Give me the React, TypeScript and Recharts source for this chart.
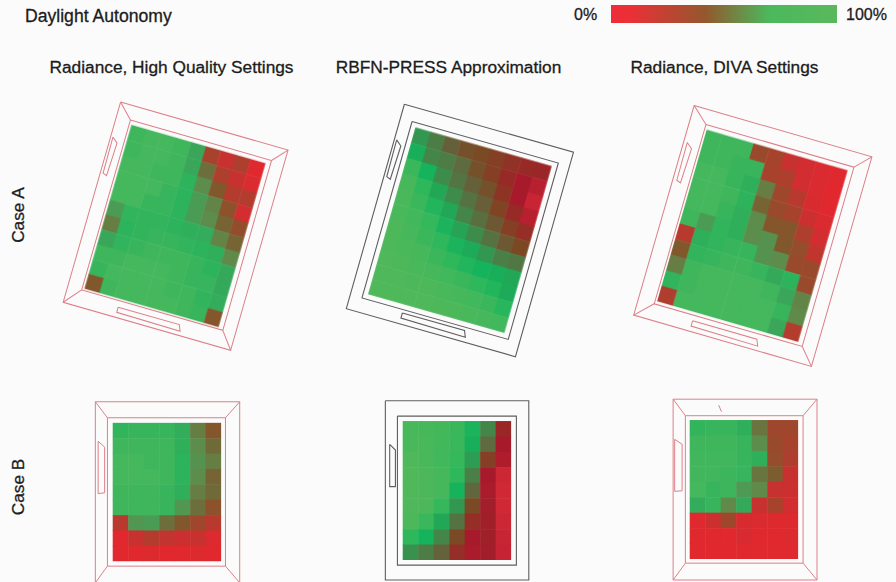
import React from "react";
import { ScatterChart, Scatter, XAxis, YAxis, BarChart, Bar } from "recharts";

const columnTitles = ["Radiance, High Quality Settings", "RBFN-PRESS Approximation", "Radiance, DIVA Settings"];
const rowTitles = ["Case A", "Case B"];
const legendTitle = "Daylight Autonomy";
const legendTicks = ["0%", "100%"];
const legendValue = [{ name: "autonomy", value: 100 }];

const caseAHigh = [
  [95, 97, 97, 95, 78, 25, 12, 22, 3],
  [95, 97, 97, 95, 78, 50, 22, 12, 5],
  [97, 97, 95, 95, 88, 62, 40, 20, 20],
  [97, 97, 97, 92, 88, 72, 58, 35, 8],
  [97, 97, 92, 92, 88, 72, 62, 45, 33],
  [72, 90, 90, 90, 88, 85, 82, 58, 45],
  [55, 88, 90, 92, 92, 90, 88, 85, 60],
  [78, 90, 92, 95, 95, 95, 92, 88, 80],
  [95, 95, 97, 97, 97, 95, 92, 92, 80],
  [92, 97, 97, 97, 97, 95, 95, 90, 82],
  [40, 95, 97, 97, 97, 97, 95, 92, 38],
];
const caseARbfn = [
  [68, 58, 45, 38, 35, 30, 24, 20, 18],
  [78, 62, 58, 50, 38, 30, 20, 12, 8],
  [92, 80, 64, 55, 45, 38, 25, 12, 4],
  [96, 88, 74, 64, 54, 44, 32, 20, 8],
  [97, 92, 84, 74, 62, 52, 42, 30, 22],
  [97, 94, 90, 82, 72, 64, 54, 42, 34],
  [98, 96, 92, 88, 82, 76, 68, 60, 56],
  [98, 97, 96, 92, 88, 84, 80, 78, 74],
  [99, 98, 97, 96, 94, 92, 88, 84, 76],
  [99, 99, 98, 98, 97, 96, 94, 92, 86],
  [99, 99, 99, 99, 98, 98, 97, 96, 94],
];
const caseADiva = [
  [95, 95, 95, 30, 25, 12, 8, 5, 3],
  [95, 95, 92, 92, 25, 22, 8, 5, 2],
  [97, 97, 92, 85, 55, 28, 18, 6, 2],
  [97, 97, 95, 88, 45, 30, 25, 10, 5],
  [97, 97, 92, 85, 62, 38, 38, 22, 8],
  [95, 72, 90, 85, 62, 65, 40, 32, 15],
  [18, 85, 90, 92, 92, 65, 62, 30, 30],
  [40, 90, 92, 95, 95, 92, 80, 88, 30],
  [55, 95, 97, 97, 97, 97, 95, 78, 58],
  [90, 95, 97, 97, 97, 97, 97, 92, 60],
  [22, 97, 97, 97, 97, 97, 97, 78, 20],
];
const caseBHigh = [
  [90, 92, 92, 92, 82, 55, 38],
  [95, 95, 95, 95, 85, 62, 48],
  [97, 97, 95, 95, 88, 65, 55],
  [97, 97, 97, 95, 88, 62, 45],
  [95, 95, 95, 92, 85, 55, 48],
  [95, 95, 95, 92, 68, 50, 35],
  [18, 68, 72, 50, 40, 28, 18],
  [2, 12, 20, 14, 10, 12, 4],
  [2, 3, 4, 2, 2, 4, 2],
];
const caseBRbfn = [
  [97, 96, 95, 92, 82, 62, 18],
  [97, 97, 95, 92, 78, 50, 12],
  [99, 97, 94, 90, 70, 30, 10],
  [99, 98, 96, 88, 60, 12, 3],
  [99, 98, 96, 80, 48, 11, 2],
  [99, 98, 90, 68, 35, 14, 2],
  [98, 92, 74, 54, 22, 15, 3],
  [88, 80, 62, 35, 12, 15, 4],
  [66, 58, 46, 22, 11, 14, 5],
];
const caseBDiva = [
  [90, 92, 92, 85, 52, 28, 28],
  [95, 95, 95, 92, 62, 30, 25],
  [96, 96, 96, 92, 85, 32, 22],
  [96, 96, 94, 92, 52, 42, 12],
  [97, 92, 94, 70, 60, 12, 10],
  [82, 92, 60, 80, 12, 25, 8],
  [3, 10, 28, 6, 5, 4, 4],
  [3, 3, 2, 6, 3, 3, 4],
  [2, 2, 3, 3, 3, 3, 3],
];

// colour ramps: [value, colour]
const radianceRamp: [number, string][] = [
  [0, "#e8262f"], [10, "#cc2f30"], [20, "#b33c2e"], [30, "#9a4a2c"], [40, "#80582c"],
  [50, "#6c6f3c"], [60, "#5f8a4a"], [72, "#4a9c55"], [80, "#35a95a"], [88, "#2db35c"],
  [96, "#42b65c"], [100, "#4db85c"],
];
const rbfnRamp: [number, string][] = [
  [0, "#d92b38"], [12, "#a61a2b"], [25, "#8e3424"], [35, "#7a4a24"], [45, "#66603a"],
  [60, "#4a8047"], [72, "#26a355"], [80, "#14b35c"], [88, "#2fb75c"], [100, "#52b85a"],
];

const hex = (c: string) => [1, 3, 5].map((i) => parseInt(c.slice(i, i + 2), 16));
function colorOf(v: number, ramp: [number, string][]) {
  for (let i = 1; i < ramp.length; i++) {
    if (v <= ramp[i][0]) {
      const t = (v - ramp[i - 1][0]) / (ramp[i][0] - ramp[i - 1][0]);
      const a = hex(ramp[i - 1][1]);
      const b = hex(ramp[i][1]);
      return `rgb(${a.map((x, k) => Math.round(x + (b[k] - x) * t)).join(",")})`;
    }
  }
  return ramp[ramp.length - 1][1];
}

type Pt = { x: number; y: number };
const pts = (list: number[][]): Pt[] => list.map(([x, y]) => ({ x, y }));
const ring = (r: number[]): Pt[] =>
  pts([[r[0], r[2]], [r[1], r[2]], [r[1], r[3]], [r[0], r[3]], [r[0], r[2]]]);
const closed = (list: number[][]): Pt[] => pts([...list, list[0]]);

const PINK = "#dc7f88";
const GRAY = "#5f5f5f";

const windowLeftA = [[-0.93, 1.09], [-0.57, 1.39], [-0.64, 3.6], [-0.9, 3.5]];
const windowBottomA = [[2.42, 11.55], [2.42, 11.89], [6.69, 11.94], [6.52, 11.54]];

const panels = [
  { grid: caseAHigh, ramp: radianceRamp, cx: 175, cy: 226.2, cw: 15.5, ch: 15.5, angle: 16, stroke: PINK, diag: true,
    outer: [-1.08, 10.16, -1.22, 12.22], inner: [-0.15, 9.32, -0.28, 11.12], windows: [windowLeftA, windowBottomA] },
  { grid: caseARbfn, ramp: rbfnRamp, cx: 460.3, cy: 230, cw: 15.74, ch: 15.77, angle: 15.85, stroke: GRAY, diag: false,
    outer: [-1.08, 10.09, -1.22, 12.26], inner: [-0.31, 9.35, -0.3, 11.33], windows: [windowLeftA, windowBottomA] },
  { grid: caseADiva, ramp: radianceRamp, cx: 752.3, cy: 235.5, cw: 16.3, ch: 16.23, angle: 16.1, stroke: PINK, diag: true,
    outer: [-1.15, 10.2, -1.22, 12.22], inner: [-0.13, 9.32, -0.3, 11.2], windows: [windowLeftA, windowBottomA] },
  { grid: caseBHigh, ramp: radianceRamp, cx: 166.5, cy: 492.5, cw: 15.49, ch: 15.38, angle: 0, stroke: PINK, diag: true,
    outer: [-1.12, 8.2, -1.37, 10.4], inner: [-0.34, 7.28, -0.33, 9.32],
    windows: [[[-0.94, 1.2], [-0.52, 1.58], [-0.52, 4.55], [-0.94, 4.6]]] },
  { grid: caseBRbfn, ramp: rbfnRamp, cx: 456.5, cy: 490.5, cw: 15.49, ch: 15.44, angle: 0, stroke: GRAY, diag: false,
    outer: [-1.12, 8.14, -1.31, 10.3], inner: [-0.34, 7.34, -0.32, 9.33],
    windows: [[[-0.84, 1.51], [-0.47, 1.88], [-0.47, 4.25], [-0.84, 4.25]]] },
  { grid: caseBDiva, ramp: radianceRamp, cx: 743.5, cy: 489.5, cw: 15.49, ch: 15.44, angle: 0, stroke: PINK, diag: true,
    outer: [-1.07, 8.22, -1.35, 10.36], inner: [-0.28, 7.32, -0.28, 9.27],
    windows: [[[-0.97, 1.25], [-0.49, 1.57], [-0.49, 4.58], [-0.97, 4.62]], [[1.87, -0.97], [2.05, -0.54]]] },
];

const NoDot = () => <g />;

function Panel({ p }: { p: (typeof panels)[number] }) {
  const rows = p.grid.length;
  const cols = p.grid[0].length;
  const span = 8;
  const w = p.cw * span * 2;
  const h = p.ch * span * 2;
  const cells = p.grid.flatMap((row, r) => row.map((v, c) => ({ x: c + 0.5, y: r + 0.5, v })));
  const [ol, or, ot, ob] = p.outer;
  const [il, ir, it, ib] = p.inner;
  const lines: Pt[][] = [ring(p.outer), ring(p.inner), ...p.windows.map((q) => (q.length > 2 ? closed(q) : pts(q)))];
  if (p.diag) {
    lines.push(
      pts([[ol, ot], [il, it]]),
      pts([[or, ot], [ir, it]]),
      pts([[or, ob], [ir, ib]]),
      pts([[ol, ob], [il, ib]])
    );
  }
  const Cellish = (s: any) => {
    const right = s.payload.x < cols - 1 ? 0.5 : 0;
    const bottom = s.payload.y < rows - 1 ? 0.5 : 0;
    return (
      <rect
        x={s.cx - p.cw / 2}
        y={s.cy - p.ch / 2}
        width={p.cw + right}
        height={p.ch + bottom}
        fill={colorOf(s.payload.v, p.ramp)}
      />
    );
  };
  const xDomain = [cols / 2 - span, cols / 2 + span];
  const yDomain = [rows / 2 - span, rows / 2 + span];
  const layer: React.CSSProperties = { position: "absolute", left: 0, top: 0 };
  return (
    <div
      style={{
        position: "absolute",
        left: p.cx - w / 2,
        top: p.cy - h / 2,
        width: w,
        height: h,
        transform: `rotate(${p.angle}deg)`,
      }}
    >
      <div style={{ ...layer, filter: "blur(0.6px)" }}>
        <ScatterChart width={w} height={h} margin={{ top: 0, right: 0, bottom: 0, left: 0 }}>
          <XAxis type="number" dataKey="x" hide domain={xDomain} />
          <YAxis type="number" dataKey="y" hide reversed domain={yDomain} />
          <Scatter data={cells} isAnimationActive={false} shape={Cellish} />
        </ScatterChart>
      </div>
      <div style={layer}>
        <ScatterChart width={w} height={h} margin={{ top: 0, right: 0, bottom: 0, left: 0 }}>
          <XAxis type="number" dataKey="x" hide domain={xDomain} />
          <YAxis type="number" dataKey="y" hide reversed domain={yDomain} />
          {lines.map((l, i) => (
            <Scatter
              key={i}
              data={l}
              isAnimationActive={false}
              shape={NoDot}
              line={{ stroke: p.stroke, strokeWidth: p.stroke === GRAY ? 1.1 : 1, fill: "none" }}
            />
          ))}
        </ScatterChart>
      </div>
    </div>
  );
}

const font = '"Liberation Sans", Arial, sans-serif';
const textBase: React.CSSProperties = {
  position: "absolute",
  fontFamily: font,
  fontSize: 17.3,
  lineHeight: "18px",
  color: "#1c1c1c",
  whiteSpace: "nowrap",
  WebkitTextStroke: "0.3px #1c1c1c",
};

export default function App() {
  return (
    <div style={{ position: "absolute", left: 0, top: 0, width: 896, height: 582, background: "#fbfbfb", overflow: "hidden" }}>
      <div style={{ ...textBase, left: 25, top: 7, fontSize: 17.6 }}>{legendTitle}</div>
      <div style={{ ...textBase, left: 574, top: 6, fontSize: 16 }}>{legendTicks[0]}</div>
      <div style={{ ...textBase, left: 846, top: 6, fontSize: 16 }}>{legendTicks[1]}</div>
      <div style={{ position: "absolute", left: 611, top: 5 }}>
        <BarChart width={226} height={18} layout="vertical" data={legendValue} margin={{ top: 0, right: 0, bottom: 0, left: 0 }} barCategoryGap={0}>
          <defs>
            <linearGradient id="legendGrad" x1="0" y1="0" x2="1" y2="0">
              <stop offset="0%" stopColor="#ee2d38" />
              <stop offset="8%" stopColor="#ec2f36" />
              <stop offset="42%" stopColor="#93582e" />
              <stop offset="70%" stopColor="#4cb85c" />
              <stop offset="100%" stopColor="#5ab85c" />
            </linearGradient>
          </defs>
          <XAxis type="number" hide domain={[0, 100]} />
          <YAxis type="category" dataKey="name" hide />
          <Bar dataKey="value" fill="url(#legendGrad)" isAnimationActive={false} />
        </BarChart>
      </div>
      {columnTitles.map((t, i) => (
        <div key={t} style={{ ...textBase, left: [171.5, 448.5, 724.5][i], top: 58, transform: "translateX(-50%)" }}>{t}</div>
      ))}
      {rowTitles.map((t, i) => (
        <div key={t} style={{ ...textBase, left: 18, top: [215, 487][i], transform: "translate(-50%,-50%) rotate(-90deg)" }}>{t}</div>
      ))}
      {panels.map((p, i) => (
        <Panel key={i} p={p} />
      ))}
    </div>
  );
}
